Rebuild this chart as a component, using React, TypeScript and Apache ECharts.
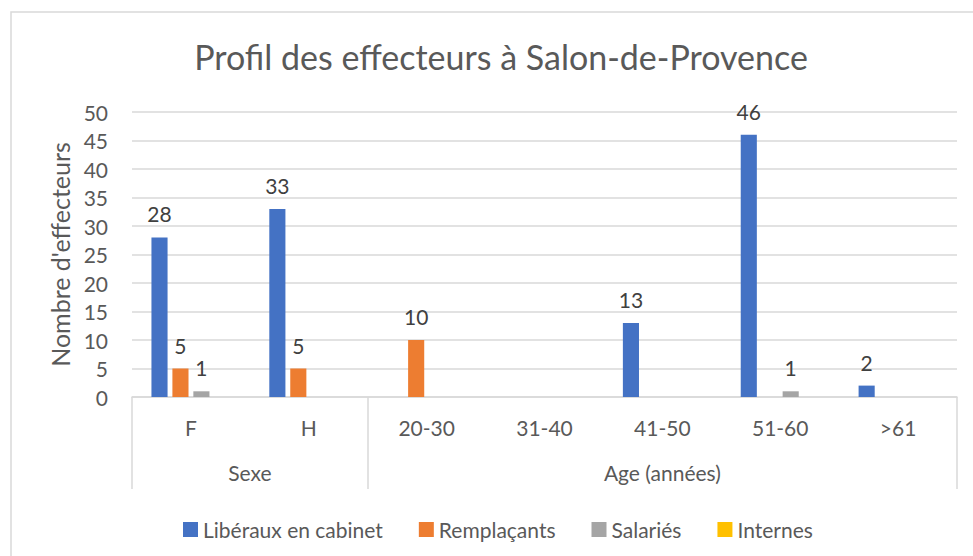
import React, { useEffect, useRef } from "react";
import * as echarts from "echarts";

const categories = ["F", "H", "20-30", "31-40", "41-50", "51-60", ">61"];
const groupLabels = ["Sexe", "Age (années)"];
const groupCenters = [1, 4.5];
const groupBounds = [0, 2, 7];
const liberaux = [28, 33, null, null, 13, 46, 2];
const remplacants = [5, 5, 10, null, null, null, null];
const salaries = [1, null, null, null, null, 1, null];
const internes = [null, null, null, null, null, null, null];
const yTicks = { min: 0, max: 50, interval: 5 };

const FONT = "Lato, 'Open Sans', sans-serif";
const TXT = "#595959";
const FS = 21;

export default function App() {
  const ref = useRef<HTMLDivElement>(null);
  useEffect(() => {
    const chart = echarts.init(ref.current!, null, { renderer: "svg" });
    const label = {
      show: true,
      position: "top",
      distance: 13,
      fontSize: FS,
      color: "#404040",
      fontFamily: FONT,
    };
    const mk = (name: string, data: (number | null)[], color: string) => ({
      name,
      type: "bar",
      data,
      itemStyle: { color },
      label,
      barGap: "30%",
      barCategoryGap: "33%",
    });
    chart.setOption({
      animation: false,
      textStyle: { fontFamily: FONT },
      title: {
        text: "Profil des effecteurs à Salon-de-Provence",
        left: 496,
        textAlign: "center",
        top: 34,
        textStyle: { fontSize: 34, fontWeight: "normal", color: TXT, fontFamily: FONT },
      },
      graphic: [
        {
          type: "rect",
          shape: { x: 11, y: 12, width: 1000, height: 600 },
          style: { fill: "none", stroke: "#D9D9D9", lineWidth: 1.5 },
          silent: true,
        },
      ],
      legend: {
        left: 178,
        top: 514,
        icon: "rect",
        itemWidth: 15,
        itemHeight: 15,
        itemGap: 36,
        textStyle: { fontSize: FS, color: TXT, fontFamily: FONT },
        data: ["Libéraux en cabinet", "Remplaçants", "Salariés", "Internes"],
      },
      grid: { left: 132, right: 16, top: 112, bottom: 159, containLabel: false },
      xAxis: [
        {
          type: "category",
          data: categories,
          axisLine: { show: true, lineStyle: { color: "#D9D9D9", width: 1.5 } },
          axisTick: { show: false },
          axisLabel: { fontSize: FS, color: TXT, margin: 20, fontFamily: FONT },
        },
        {
          type: "value",
          position: "bottom",
          min: 0,
          max: 7,
          axisLine: { show: false },
          splitLine: { show: false },
          axisTick: {
            show: true,
            customValues: groupBounds,
            length: 92,
            inside: false,
            lineStyle: { color: "#D9D9D9", width: 1.5 },
          },
          axisLabel: {
            customValues: groupCenters,
            fontSize: FS,
            color: TXT,
            margin: 65,
            fontFamily: FONT,
            formatter: (v: number) => groupLabels[groupCenters.indexOf(v)] ?? "",
          },
        },
      ],
      yAxis: {
        type: "value",
        min: yTicks.min,
        max: yTicks.max,
        interval: yTicks.interval,
        name: "Nombre d'effecteurs",
        nameLocation: "middle",
        nameGap: 58,
        nameTextStyle: { fontSize: 25, color: TXT, fontFamily: FONT },
        axisLine: { show: false },
        axisTick: { show: false },
        axisLabel: { fontSize: FS, color: TXT, margin: 24, fontFamily: FONT },
        splitLine: { lineStyle: { color: "#D9D9D9", width: 1.5 } },
      },
      series: [
        mk("Libéraux en cabinet", liberaux, "#4472C4"),
        mk("Remplaçants", remplacants, "#ED7D31"),
        mk("Salariés", salaries, "#A5A5A5"),
        mk("Internes", internes, "#FFC000"),
      ],
    });
    return () => chart.dispose();
  }, []);
  return (
    <div
      ref={ref}
      style={{ position: "fixed", left: 0, top: 0, width: 973, height: 556, background: "#fff" }}
    />
  );
}
